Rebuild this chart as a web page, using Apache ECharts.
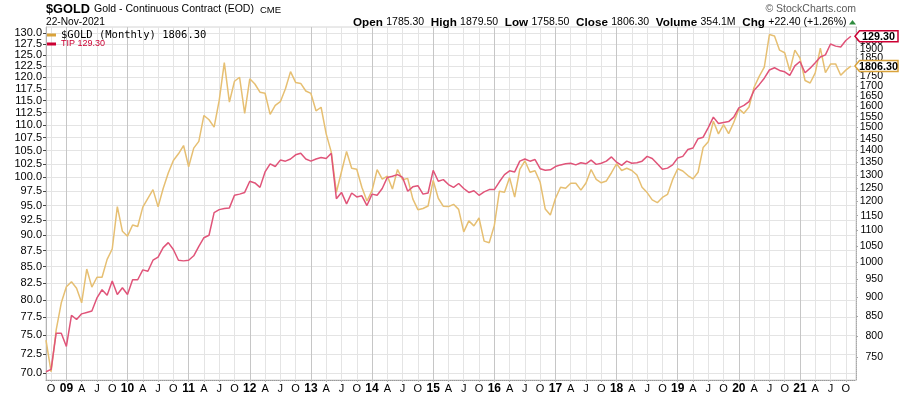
<!DOCTYPE html>
<html><head><meta charset="utf-8">
<script src="https://cdn.jsdelivr.net/npm/echarts@6/dist/echarts.min.js"></script>
<style>html,body{margin:0;padding:0;background:#fff}#c{width:900px;height:396px}</style>
</head><body><div id="c"></div>
<script>
// Monthly categories: Sep 2008 .. Dec 2021
const firstYear = 2008, firstMonthIdx = 8, monthCount = 160;
const monthLetters = ['J','F','M','A','M','J','J','A','S','O','N','D'];

// TIP (left axis), Sep 2008 .. Nov 2021
const tipValues = [
70.2,70.5,75.3,75.3,
73.5,77.8,77.2,78.0,78.2,78.4,80.3,81.5,80.7,82.8,80.8,81.8,
80.8,83.0,83.0,84.5,84.3,86.0,86.5,88.0,88.8,87.7,86.0,85.9,
86.0,86.7,88.2,89.6,90.0,93.8,94.3,94.5,94.6,96.8,97.0,97.3,
99.3,99.0,98.2,101.0,102.5,102.0,103.2,103.0,103.4,104.2,104.5,103.4,
103.0,103.4,103.7,103.5,104.5,96.2,97.3,95.3,97.2,96.5,96.7,95.0,
97.0,96.8,98.0,100.0,100.2,100.5,100.0,97.5,98.3,98.5,97.0,97.2,
101.3,99.3,99.6,98.7,98.2,98.9,98.0,97.3,97.6,96.8,97.4,97.8,
97.8,99.2,100.5,101.2,101.0,103.0,103.4,103.0,103.3,101.6,101.3,101.4,
102.0,102.3,102.5,102.6,102.3,102.7,102.5,103.2,102.4,102.6,103.0,103.8,
102.8,102.2,103.0,102.6,102.7,103.0,103.9,103.5,102.5,101.5,101.7,102.3,
103.6,103.9,105.2,105.5,107.3,107.6,109.5,111.6,110.3,110.5,110.7,111.6,
113.5,114.0,114.8,117.2,118.4,119.8,121.6,122.1,121.5,121.2,120.4,122.5,
123.5,121.0,122.0,123.2,124.5,125.0,127.5,127.0,126.8,128.3,129.3
];
// $GOLD monthly (right axis), Sep 2008 .. Nov 2021
const goldValues = [
790,718,815,884,
928,942,924,884,979,927,955,955,1008,1040,1182,1097,
1081,1118,1113,1180,1212,1244,1181,1248,1308,1358,1386,1421,
1333,1410,1439,1556,1536,1502,1628,1825,1620,1725,1746,1566,
1738,1711,1669,1664,1561,1604,1622,1687,1776,1719,1714,1675,
1663,1578,1595,1472,1393,1234,1313,1396,1327,1323,1253,1202,
1240,1321,1284,1296,1246,1322,1282,1287,1210,1171,1175,1184,
1279,1212,1183,1182,1190,1172,1095,1132,1115,1142,1065,1060,
1116,1238,1234,1290,1216,1322,1357,1311,1317,1272,1173,1152,
1211,1253,1249,1268,1268,1242,1269,1322,1283,1270,1277,1309,
1345,1318,1327,1318,1300,1253,1233,1206,1196,1215,1226,1282,
1325,1316,1298,1285,1311,1413,1437,1529,1472,1514,1473,1523,
1587,1566,1596,1694,1751,1800,1986,1978,1895,1880,1781,1895,
1850,1729,1716,1769,1907,1771,1817,1818,1757,1784,1806
];
const leftTicks = [70.0,72.5,75.0,77.5,80.0,82.5,85.0,87.5,90.0,92.5,95.0,97.5,100.0,102.5,105.0,107.5,110.0,112.5,115.0,117.5,120.0,122.5,125.0,127.5,130.0];
const rightTicks = [750,800,850,900,950,1000,1050,1100,1150,1200,1250,1300,1350,1400,1450,1500,1550,1600,1650,1700,1750,1800,1850,1900,1950];

const goldName = '$GOLD (Monthly) 1806.30';
const tipName = 'TIP 129.30';

const categories = [];
for (let i = 0; i < monthCount; i++) {
  const k = firstMonthIdx + i;
  categories.push((firstYear + Math.floor(k / 12)) + '-' + String(k % 12 + 1).padStart(2, '0'));
}
const monthOf = idx => (firstMonthIdx + idx) % 12;
const quarterFn = idx => monthOf(idx) % 3 === 0;
const evenOf = arr => arr.filter((_, i) => i % 2 === 0);
const oddOf = arr => arr.filter((_, i) => i % 2 === 1);

const chart = echarts.init(document.getElementById('c'), null, {renderer: 'canvas'});
const F = 'Liberation Sans, Arial, sans-serif';
const LEFT_MIN = 69.15, LEFT_MAX = 131.5, RIGHT_MIN = 700.4, RIGHT_MAX = 2032;

const leftLabel = vals => ({customValues: vals, formatter: v => Number(v).toFixed(1), fontSize: 11, color: '#000', margin: 4, fontFamily: F, showMaxLabel: true, showMinLabel: true, hideOverlap: false});
const rightLabel = vals => ({customValues: vals, formatter: v => String(Math.round(v)), align: 'right', margin: 27, fontSize: 10.5, color: '#000', fontFamily: F, showMaxLabel: true, showMinLabel: true, hideOverlap: false});

chart.setOption({
  animation: false,
  backgroundColor: '#ffffff',
  textStyle: {fontFamily: F},
  grid: {left: 46, right: 44, top: 27, bottom: 16, show: true, borderColor: '#d4d4d4', borderWidth: 1},
  legend: {
    orient: 'vertical', left: 47, top: 29, itemGap: -2, itemWidth: 9, itemHeight: 3,
    icon: 'rect', selectedMode: false, padding: 0,
    data: [
      {name: goldName, itemStyle: {color: '#d9a23a'}, textStyle: {fontFamily: 'DejaVu Sans Mono', fontSize: 10.5, color: '#000', lineHeight: 12}},
      {name: tipName, itemStyle: {color: '#cc0033'}, textStyle: {fontFamily: F, fontSize: 9, color: '#cc0033', lineHeight: 10}}
    ]
  },
  xAxis: {
    type: 'category', boundaryGap: false, data: categories,
    axisLine: {show: true, lineStyle: {color: '#9a9a9a', type: 'dotted'}},
    axisTick: {show: true, interval: quarterFn, length: 2, lineStyle: {color: '#bbbbbb'}},
    axisLabel: {
      interval: quarterFn, margin: 3, color: '#000',
      formatter: (v, idx) => {
        const m = monthOf(idx);
        if (m === 0) return '{y|' + v.slice(2, 4) + '}';
        return '{m|' + monthLetters[m] + '}';
      },
      rich: {y: {fontWeight: 'bold', fontSize: 12, fontFamily: F, color: '#000'}, m: {fontSize: 11, fontFamily: F, color: '#000'}}
    },
    splitLine: {show: true, interval: quarterFn, lineStyle: {width: 1, color: ['#e4e4e4', '#c6c6c6', '#e4e4e4', '#e4e4e4']}}
  },
  yAxis: [{
    type: 'log', position: 'left', min: LEFT_MIN, max: LEFT_MAX,
    axisLine: {show: true, lineStyle: {color: '#b4b4b4'}},
    axisTick: {show: true, customValues: leftTicks, length: 3, lineStyle: {color: '#444'}},
    axisLabel: leftLabel(evenOf(leftTicks)),
    splitLine: {show: true, lineStyle: {color: '#e4e4e4'}},
    minorTick: {show: false}, minorSplitLine: {show: false}
  }, {
    type: 'log', position: 'right', min: RIGHT_MIN, max: RIGHT_MAX,
    axisLine: {show: true, lineStyle: {color: '#a8a8a8', type: 'dotted'}},
    axisTick: {show: true, customValues: rightTicks, length: 2, lineStyle: {color: '#aaa'}},
    axisLabel: rightLabel(evenOf(rightTicks)),
    splitLine: {show: false},
    minorTick: {show: false}, minorSplitLine: {show: false}
  }, {
    type: 'log', position: 'left', min: LEFT_MIN, max: LEFT_MAX,
    axisLine: {show: false}, axisTick: {show: false}, splitLine: {show: false},
    axisLabel: leftLabel(oddOf(leftTicks)),
    minorTick: {show: false}, minorSplitLine: {show: false}
  }, {
    type: 'log', position: 'right', min: RIGHT_MIN, max: RIGHT_MAX,
    axisLine: {show: false}, axisTick: {show: false}, splitLine: {show: false},
    axisLabel: rightLabel(oddOf(rightTicks)),
    minorTick: {show: false}, minorSplitLine: {show: false}
  }],
  series: [{
    name: goldName, type: 'line', yAxisIndex: 1, data: goldValues, showSymbol: false, symbol: 'none',
    lineStyle: {color: '#e6bf72', width: 1.5}, itemStyle: {color: '#e6bf72'}, z: 2
  }, {
    name: tipName, type: 'line', yAxisIndex: 0, data: tipValues, showSymbol: false, symbol: 'none',
    lineStyle: {color: '#e05479', width: 1.5}, itemStyle: {color: '#e05479'}, z: 3
  }]
});

function tag(y, text, color) {
  return [
    {type: 'polygon', z: 100, zlevel: 1, shape: {points: [[855, y], [859.5, y - 5.5], [898, y - 5.5], [898, y + 5.5], [859.5, y + 5.5]]},
     style: {fill: '#fff', stroke: color, lineWidth: 1.5}},
    {type: 'text', z: 101, zlevel: 1, x: 878.5, y: y + 0.5, style: {text: text, fill: '#000', font: 'bold 10.8px ' + F, textAlign: 'center', textVerticalAlign: 'middle'}}
  ];
}
const lastTip = tipValues[tipValues.length - 1];
const lastGold = goldValues[goldValues.length - 1];
const yTip = chart.convertToPixel({yAxisIndex: 0}, lastTip);
const yGold = chart.convertToPixel({yAxisIndex: 1}, lastGold);

chart.setOption({
  graphic: [
    {type: 'text', x: 46, y: 9, style: {text: '$GOLD', font: 'bold 12.8px ' + F, fill: '#000', textVerticalAlign: 'middle'}},
    {type: 'text', x: 94, y: 9.5, style: {text: 'Gold - Continuous Contract (EOD)', font: '10.5px ' + F, fill: '#000', textVerticalAlign: 'middle'}},
    {type: 'text', x: 260, y: 10, style: {text: 'CME', font: '9.5px ' + F, fill: '#000', textVerticalAlign: 'middle'}},
    {type: 'text', x: 46, y: 22.5, style: {text: '22-Nov-2021', font: '10.2px ' + F, fill: '#000', textVerticalAlign: 'middle'}},
    {type: 'text', x: 856, y: 9.5, style: {text: '\u00a9 StockCharts.com', font: '10.5px ' + F, fill: '#5a5a5a', textAlign: 'right', textVerticalAlign: 'middle'}},
    {type: 'text', x: 846.5, y: 22.5, style: {
      text: '{b|Open} {v|1785.30}  {b|High} {v|1879.50}  {b|Low} {v|1758.50}  {b|Close} {v|1806.30}  {b|Volume} {v|354.1M}  {b|Chg} {v|+22.40 (+1.26%)}',
      textAlign: 'right', textVerticalAlign: 'middle',
      rich: {b: {font: 'bold 11.7px ' + F, fill: '#000'}, v: {font: '10.5px ' + F, fill: '#000'}}
    }},
    {type: 'polygon', shape: {points: [[849, 24.5], [856, 24.5], [852.5, 20]]}, style: {fill: '#2e8b3e'}}
  ].concat(tag(yTip, '129.30', '#cc0033'), tag(yGold, '1806.30', '#d9a23a'))
});
</script></body></html>
